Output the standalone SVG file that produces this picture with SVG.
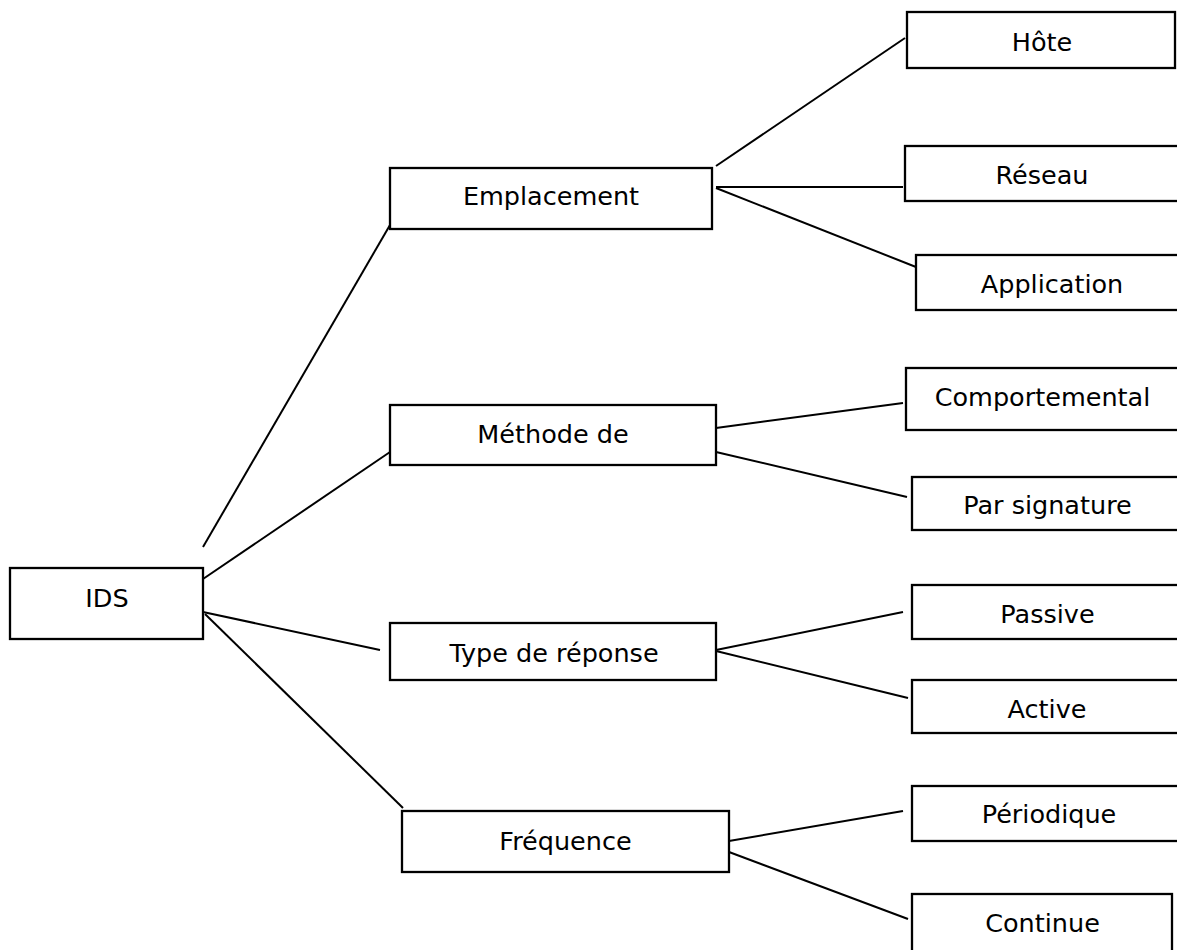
<svg xmlns="http://www.w3.org/2000/svg" width="1177" height="950" viewBox="0 0 1177 950">
<style>
.box{fill:#fff;stroke:#000;stroke-width:2.3}
.lbl{font-family:"DejaVu Sans",Verdana,sans-serif;font-size:25.5px;fill:#000;text-anchor:middle}
.con line{stroke:#000;stroke-width:2;fill:none}
</style>
<rect width="1177" height="950" fill="#fff"/>
<g id="connectors" class="con">
<line x1="203" y1="547" x2="390" y2="225"/>
<line x1="203" y1="579" x2="390" y2="452"/>
<line x1="203" y1="612" x2="380" y2="650"/>
<line x1="205" y1="614" x2="403" y2="808"/>
<line x1="716" y1="166" x2="905" y2="38"/>
<line x1="716" y1="187" x2="903" y2="187"/>
<line x1="716" y1="188" x2="916" y2="267"/>
<line x1="716" y1="428" x2="903" y2="403"/>
<line x1="716" y1="452" x2="907" y2="497"/>
<line x1="716" y1="650" x2="903" y2="612"/>
<line x1="716" y1="651" x2="908" y2="698"/>
<line x1="729" y1="841" x2="903" y2="811"/>
<line x1="729" y1="852" x2="908" y2="919"/>
</g>
<g id="ids"><rect class="box" x="10" y="568" width="193" height="71"/><text class="lbl" x="107" y="607">IDS</text></g>
<g id="emplacement"><rect class="box" x="390" y="168" width="322" height="61"/><text class="lbl" x="551" y="205">Emplacement</text></g>
<g id="methode"><rect class="box" x="390" y="405" width="326" height="60"/><text class="lbl" x="553" y="443">Méthode de</text></g>
<g id="type"><rect class="box" x="390" y="623" width="326" height="57"/><text class="lbl" x="554" y="662">Type de réponse</text></g>
<g id="frequence"><rect class="box" x="402" y="811" width="327" height="61"/><text class="lbl" x="565.5" y="850">Fréquence</text></g>
<g id="hote"><rect class="box" x="907" y="12" width="268" height="56"/><text class="lbl" x="1042" y="51">Hôte</text></g>
<g id="reseau"><rect class="box" x="905" y="146" width="290" height="55"/><text class="lbl" x="1042" y="184">Réseau</text></g>
<g id="application"><rect class="box" x="916" y="255" width="290" height="55"/><text class="lbl" x="1052" y="293">Application</text></g>
<g id="comportemental"><rect class="box" x="906" y="368" width="290" height="62"/><text class="lbl" x="1042.5" y="406">Comportemental</text></g>
<g id="signature"><rect class="box" x="912" y="477" width="290" height="53"/><text class="lbl" x="1047.5" y="514">Par signature</text></g>
<g id="passive"><rect class="box" x="912" y="585" width="290" height="54"/><text class="lbl" x="1047.5" y="623">Passive</text></g>
<g id="active"><rect class="box" x="912" y="680" width="290" height="53"/><text class="lbl" x="1047" y="718">Active</text></g>
<g id="periodique"><rect class="box" x="912" y="786" width="290" height="55"/><text class="lbl" x="1049" y="823">Périodique</text></g>
<g id="continue"><rect class="box" x="912" y="894" width="260" height="70"/><text class="lbl" x="1042.5" y="932">Continue</text></g>
</svg>
